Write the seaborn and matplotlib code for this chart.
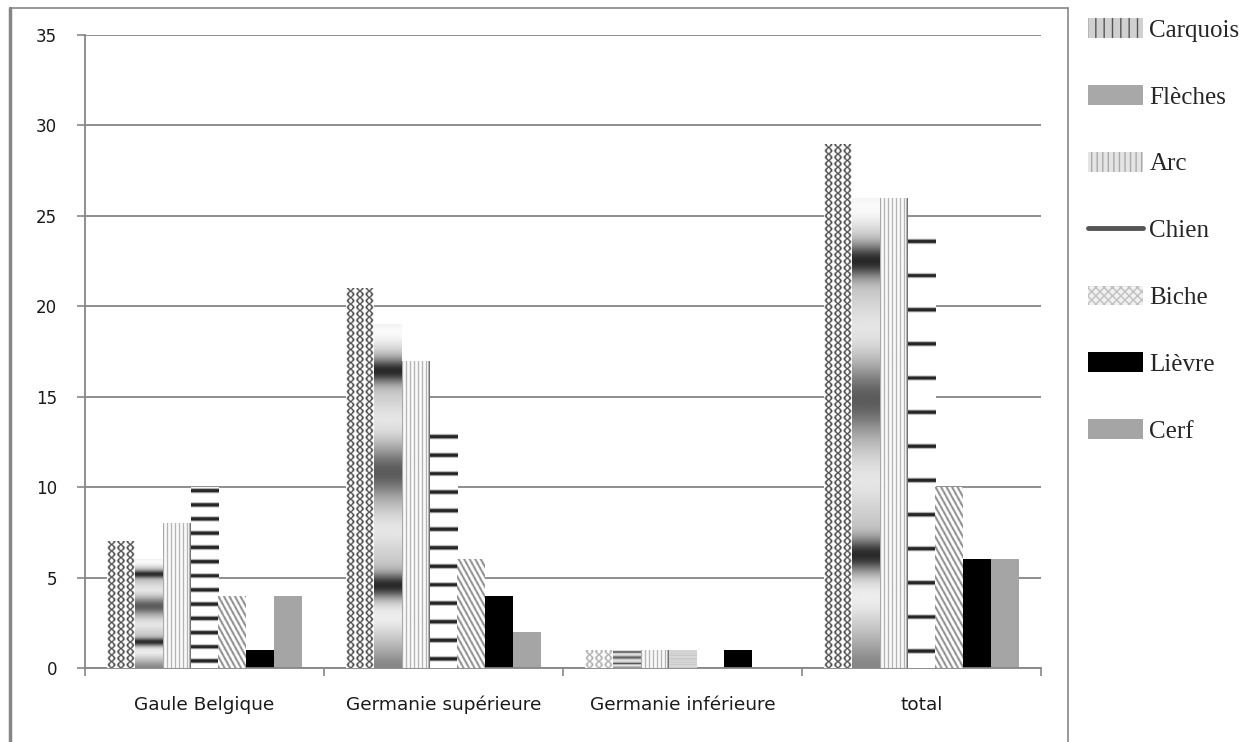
import numpy as np
import pandas as pd
import matplotlib
matplotlib.use("Agg")
import matplotlib.pyplot as plt
import seaborn as sns
from matplotlib.patches import Patch
from matplotlib.lines import Line2D

# ---- data ----
regions = ["Gaule Belgique", "Germanie supérieure", "Germanie inférieure", "total"]
objets = ["Carquois", "Flèches", "Arc", "Chien", "Biche", "Lièvre", "Cerf"]
carquois = [7, 21, 1, 29]
fleches = [6, 19, 1, 26]
arc = [8, 17, 1, 26]
chien = [10, 13, 1, 24]
biche = [4, 6, 0, 10]
lievre = [1, 4, 1, 6]
cerf = [4, 2, 0, 6]
yticks = [0, 5, 10, 15, 20, 25, 30, 35]

series = [carquois, fleches, arc, chien, biche, lievre, cerf]
rows = []
for name, vals in zip(objets, series):
    for reg, v in zip(regions, vals):
        rows.append({"region": reg, "objet": name, "valeur": v})
df = pd.DataFrame(rows)

sns.set_theme(style="white")
plt.rcParams["hatch.linewidth"] = 1.0
plt.rcParams["font.family"] = ["DejaVu Sans"]

W, H = 1247, 742
fig = plt.figure(figsize=(W / 100, H / 100), dpi=100)
fig.patch.set_facecolor("white")
ax = fig.add_axes([85 / W, 1 - 668 / H, (1041 - 85) / W, (668 - 35) / H])

base_cols = ["#888888", "#aaaaaa", "#dddddd", "#ffffff", "#cccccc", "#000000", "#a5a5a5"]
sns.barplot(data=df, x="region", y="valeur", hue="objet", order=regions,
            hue_order=objets, palette=base_cols, saturation=1, width=0.82,
            linewidth=0, legend=False, ax=ax, zorder=2)

ax.set_ylim(0, 35)
ax.set_xlim(-0.5, 3.5)
ax.set_yticks(yticks)
ax.set_xlabel("")
ax.set_ylabel("")
ax.set_axisbelow(True)
ax.yaxis.grid(True, color="#868686", linewidth=1.3)
ax.xaxis.grid(False)
for s in ["top", "right"]:
    ax.spines[s].set_visible(False)
for s in ["left", "bottom"]:
    ax.spines[s].set_color("#868686")
    ax.spines[s].set_linewidth(1.3)
ax.tick_params(axis="y", left=True, length=6, width=1.2, color="#868686",
               pad=14, labelsize=12, labelcolor="#1a1a1a")
ax.tick_params(axis="x", which="major", bottom=False, length=0, pad=20,
               labelsize=13.3, labelcolor="#1a1a1a")
ax.set_xticks([-0.5, 0.5, 1.5, 2.5, 3.5], minor=True)
ax.tick_params(axis="x", which="minor", bottom=True, length=6, width=1.2,
               color="#868686")


# ---- textures drawn inside each bar ----
def tex_carquois(w, h):
    y = np.arange(0, h, 0.5)[:, None] + 0.25
    x = np.arange(0, w, 0.5)[None, :] + 0.25
    cw = w / 3.0
    u = np.mod(x, cw)
    cx = cw / 2
    a = 0.3 * cw * np.sin(2 * np.pi * y / 13.0)
    d = np.minimum(np.abs(u - (cx + a)), np.abs(u - (cx - a)))
    g = 0.2 + 0.8 * np.clip((d - 0.35) / 1.1, 0, 1)
    if h < 30:
        g = 0.55 + 0.45 * g
    return g


def tex_fleches(w, h):
    t = (np.arange(0, h, 0.5)[:, None] + 0.25) / h
    g = (0.78 - 0.25 * np.exp(-((t - 0.0) / 0.06) ** 2)
         - 0.62 * np.exp(-((t - 0.24) / 0.035) ** 2)
         - 0.42 * np.exp(-((t - 0.57) / 0.07) ** 2)
         - 0.62 * np.exp(-((t - 0.865) / 0.035) ** 2)
         + 0.15 * np.exp(-((t - 0.15) / 0.05) ** 2)
         + 0.12 * np.exp(-((t - 0.40) / 0.06) ** 2)
         + 0.12 * np.exp(-((t - 0.72) / 0.06) ** 2)
         + 0.2 * np.exp(-((t - 0.98) / 0.05) ** 2))
    return np.repeat(np.clip(g, 0, 1), max(int(w * 2), 2), axis=1)


def tex_arc(w, h):
    x = np.arange(0, w, 0.5)[None, :] + 0.25
    g = np.where(np.mod(x, 4.0) < 1.2, 0.62, 0.98)
    g = np.where(x > w - 1.5, 0.45, g)
    return np.repeat(g, max(int(h * 2), 2), axis=0)


def tex_chien(w, h):
    y = np.arange(0, h, 0.25)[:, None] + 0.125
    sp = 0.0785 * h
    centers = h * 0.039 + sp * np.arange(13)
    d = np.min(np.abs(y - centers[None, :]), axis=1, keepdims=True)
    th = min(1.6, sp * 0.15)
    g = np.where(d < th, 0.15, np.where(d < th + 1.0, 0.72, 1.0))
    if h < 30:
        g = 0.6 + 0.4 * g
    return np.repeat(g, max(int(w * 2), 2), axis=1)


def tex_biche(w, h):
    y = np.arange(0, h, 0.5)[:, None] + 0.25
    x = np.arange(0, w, 0.5)[None, :] + 0.25
    return np.where(np.mod((x + 0.55 * y) / 5.5, 1.0) < 0.4, 0.55, 1.0)


textures = [tex_carquois, tex_fleches, tex_arc, tex_chien, tex_biche, None, None]

for cont, tex in zip(ax.containers, textures):
    if tex is None:
        continue
    for bar in cont:
        x0, y0 = bar.get_x(), bar.get_y()
        bw, bh = bar.get_width(), bar.get_height()
        if bh <= 0:
            continue
        p0 = ax.transData.transform((x0, y0))
        p1 = ax.transData.transform((x0 + bw, y0 + bh))
        wpx, hpx = p1[0] - p0[0], p1[1] - p0[1]
        img = tex(wpx, hpx)
        im = ax.imshow(img, cmap="gray", vmin=0, vmax=1, origin="lower",
                       extent=[x0, x0 + bw, y0, y0 + bh], aspect="auto",
                       interpolation="bilinear", zorder=3)
        im.set_clip_path(bar)

ax.set_xlim(-0.5, 3.5)
ax.set_ylim(0, 35)

# ---- outer frame ----
fc = "#868686"
fig.add_artist(Line2D([10 / W, 10 / W], [0, 1 - 8 / H], transform=fig.transFigure,
                      color=fc, lw=2.5))
fig.add_artist(Line2D([10 / W, 1068 / W], [1 - 8 / H, 1 - 8 / H],
                      transform=fig.transFigure, color=fc, lw=1.2))
fig.add_artist(Line2D([1068 / W, 1068 / W], [0, 1 - 8 / H],
                      transform=fig.transFigure, color=fc, lw=1.2))

# ---- legend ----
handles = [
    Patch(facecolor="#d0d0d0", edgecolor="#555555", hatch="||", linewidth=0),
    Patch(facecolor="#a8a8a8", linewidth=0),
    Patch(facecolor="#e4e4e4", edgecolor="#aaaaaa", hatch="|||", linewidth=0),
    Line2D([0], [0], color="#555555", lw=3.5),
    Patch(facecolor="#f0f0f0", edgecolor="#c0c0c0", hatch="xxxx", linewidth=0),
    Patch(facecolor="#000000", linewidth=0),
    Patch(facecolor="#a5a5a5", linewidth=0),
]
fig.legend(handles, objets, loc="upper left",
           bbox_to_anchor=(1088 / W, 1 - 18 / H), frameon=False,
           prop={"family": "Liberation Serif", "size": 18},
           handlelength=2.2, handleheight=0.85, handletextpad=0.25,
           labelspacing=1.73, borderpad=0, borderaxespad=0)

fig.savefig("out.png", dpi=100)
